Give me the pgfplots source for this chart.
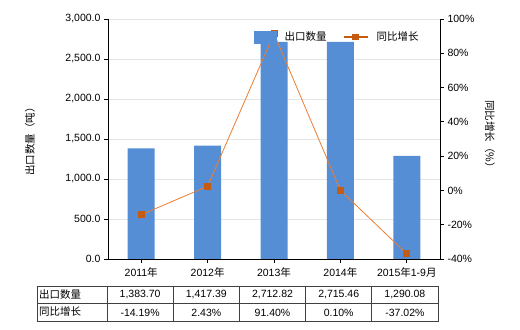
\documentclass[border=0pt]{standalone}
\usepackage{pgfplots}
\pgfplotsset{compat=1.18}
\usepackage{fontspec}
\setmainfont{Liberation Sans}
\newfontfamily\cjk{Noto Sans CJK SC}
\definecolor{barblue}{RGB}{85,142,213}
\definecolor{lineorange}{RGB}{237,125,49}
\definecolor{markorange}{RGB}{197,90,17}
\definecolor{tablegray}{RGB}{64,64,64}
\begin{document}
\begin{tikzpicture}[font=\fontsize{10.5bp}{12bp}\selectfont]
\useasboundingbox (0,0) rectangle (520bp,330bp);
\begin{axis}[
  at={(108bp,71bp)}, anchor=south west,
  scale only axis, width=332bp, height=240bp,
  xmin=-0.5, xmax=4.5, ymin=0, ymax=3000,
  axis y line*=left, axis x line*=bottom,
  xtick={0,1,2,3,4},
  xticklabels={2011{\cjk 年},2012{\cjk 年},2013{\cjk 年},2014{\cjk 年},2015{\cjk 年}1-9{\cjk 月}},
  ytick={0,500,1000,1500,2000,2500,3000},
  ymajorgrids, grid style={draw=black!10, line width=0.6bp},
  tick align=outside, major tick length=4bp,
  tick style={black, line width=0.8bp},
  axis line style={black, line width=0.8bp},
  /pgf/number format/assume math mode=true,
  yticklabel style={/pgf/number format/.cd, fixed, fixed zerofill, precision=1, 1000 sep={,}},
  every axis y label/.style={at={(axis description cs:-0.235,0.5)}, rotate=90, anchor=center},
  ylabel={\cjk 出口数量（吨）},
  xticklabel style={yshift=-1bp},
]
\addplot[ybar, bar width=27bp, fill=barblue, draw=none] coordinates {(0,1383.70) (1,1417.39) (2,2712.82) (3,2715.46) (4,1290.08)};
\end{axis}
\begin{axis}[
  at={(108bp,71bp)}, anchor=south west,
  scale only axis, width=332bp, height=240bp,
  xmin=-0.5, xmax=4.5, ymin=-40, ymax=100,
  axis y line*=right, axis x line=none,
  ytick={-40,-20,0,20,40,60,80,100},
  yticklabel={\pgfmathprintnumber{\tick}\%},
  /pgf/number format/assume math mode=true,
  tick align=outside, major tick length=4bp,
  tick style={black, line width=0.8bp},
  axis line style={black, line width=0.8bp},
  every axis y label/.style={at={(axis description cs:1.15,0.51)}, rotate=-90, anchor=center},
  ylabel={\cjk 同比增长（\%）},
  legend style={at={(axis description cs:0.44,0.925)}, anchor=west, draw=none, fill=none, inner sep=0pt,
    font=\cjk\fontsize{10.5bp}{12bp}\selectfont,
    /tikz/every odd column/.append style={column sep=6bp},
    /tikz/every even column/.append style={column sep=14bp}},
  legend columns=2,
]
\addlegendimage{legend image code/.code={\fill[barblue] (0bp,-6bp) rectangle (22bp,6bp);}}
\addlegendentry{出口数量}
\addplot[color=lineorange, line width=0.8bp, mark=square*, mark size=3bp, mark options={fill=markorange, draw=markorange},
  legend image code/.code={\draw[markorange, line width=2bp] (0bp,0bp) -- (24bp,0bp); \fill[markorange] (9bp,-2.5bp) rectangle (15bp,2.5bp);}]
  coordinates {(0,-14.19) (1,2.43) (2,91.40) (3,0.10) (4,-37.02)};
\addlegendentry{同比增长}
\end{axis}
% data table
\begin{scope}[x=1bp, y=1bp]
\draw[tablegray, line width=0.8bp] (37,9) rectangle (438,44);
\draw[tablegray, line width=0.8bp] (37,26.5) -- (438,26.5);
\foreach \xx in {107,173.2,239.4,305.6,371.8} {\draw[tablegray, line width=0.8bp] (\xx,9) -- (\xx,44);}
\node[anchor=west, inner sep=0pt] at (39,35.5) {\cjk 出口数量};
\node[anchor=west, inner sep=0pt] at (39,18) {\cjk 同比增长};
\node at (140.1,35) {1,383.70};
\node at (206.3,35) {1,417.39};
\node at (272.5,35) {2,712.82};
\node at (338.7,35) {2,715.46};
\node at (404.9,35) {1,290.08};
\node at (140.1,17.5) {-14.19\%};
\node at (206.3,17.5) {2.43\%};
\node at (272.5,17.5) {91.40\%};
\node at (338.7,17.5) {0.10\%};
\node at (404.9,17.5) {-37.02\%};
\end{scope}
\end{tikzpicture}
\end{document}
